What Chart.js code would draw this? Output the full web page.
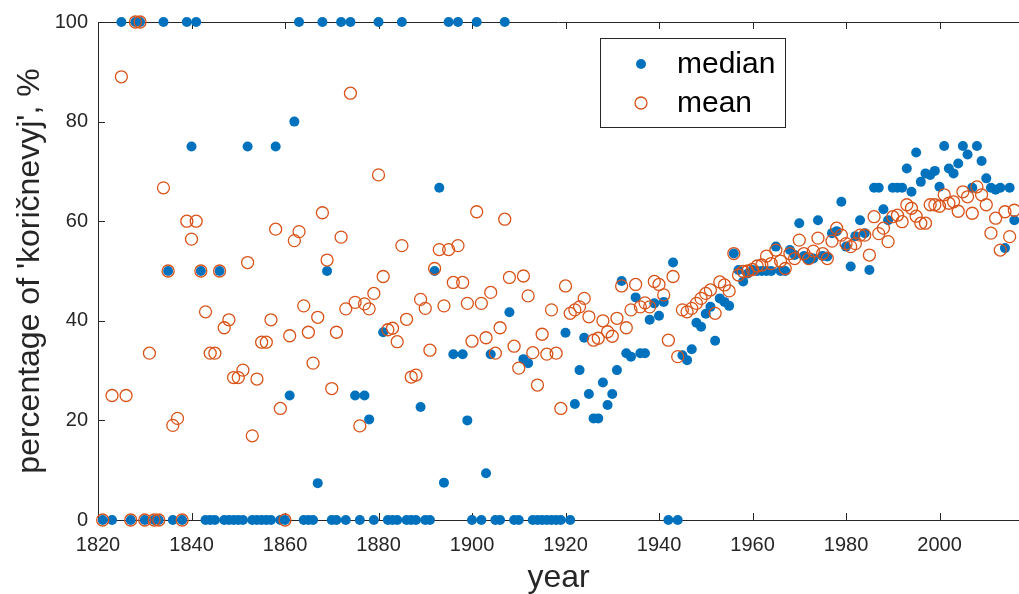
<!DOCTYPE html>
<html>
<head>
<meta charset="utf-8">
<title>koričnevyj by year</title>
<script src="https://cdn.jsdelivr.net/npm/chart.js@4.4.1/dist/chart.umd.min.js"></script>
<style>
  html, body { margin: 0; padding: 0; background: #fff; }
  #wrap { width: 1019px; height: 594px; }
</style>
</head>
<body>
<div id="wrap"><canvas id="pctChart" width="1019" height="594"></canvas></div>
<script>
// =========================
// DATA (null = no value that year)
// =========================
const years = [
  1821, 1823, 1825, 1826, 1827, 1828, 1829, 1830, 1831, 1832,
  1833, 1834, 1835, 1836, 1837, 1838, 1839, 1840, 1841, 1842,
  1843, 1844, 1845, 1846, 1847, 1848, 1849, 1850, 1851, 1852,
  1853, 1854, 1855, 1856, 1857, 1858, 1859, 1860, 1861, 1862,
  1863, 1864, 1865, 1866, 1867, 1868, 1869, 1870, 1871, 1872,
  1873, 1874, 1875, 1876, 1877, 1878, 1879, 1880, 1881, 1882,
  1883, 1884, 1885, 1886, 1887, 1888, 1889, 1890, 1891, 1892,
  1893, 1894, 1895, 1896, 1897, 1898, 1899, 1900, 1901, 1902,
  1903, 1904, 1905, 1906, 1907, 1908, 1909, 1910, 1911, 1912,
  1913, 1914, 1915, 1916, 1917, 1918, 1919, 1920, 1921, 1922,
  1923, 1924, 1925, 1926, 1927, 1928, 1929, 1930, 1931, 1932,
  1933, 1934, 1935, 1936, 1937, 1938, 1939, 1940, 1941, 1942,
  1943, 1944, 1945, 1946, 1947, 1948, 1949, 1950, 1951, 1952,
  1953, 1954, 1955, 1956, 1957, 1958, 1959, 1960, 1961, 1962,
  1963, 1964, 1965, 1966, 1967, 1968, 1969, 1970, 1971, 1972,
  1973, 1974, 1975, 1976, 1977, 1978, 1979, 1980, 1981, 1982,
  1983, 1984, 1985, 1986, 1987, 1988, 1989, 1990, 1991, 1992,
  1993, 1994, 1995, 1996, 1997, 1998, 1999, 2000, 2001, 2002,
  2003, 2004, 2005, 2006, 2007, 2008, 2009, 2010, 2011, 2012,
  2013, 2014, 2015, 2016
];

const medianPct = [
  0, 0, 100, null, 0, 100, 100, 0, null, 0,
  0, 100, 50, 0, null, 0, 100, 75, 100, 50,
  0, 0, 0, 50, 0, 0, 0, 0, 0, 75,
  0, 0, 0, 0, 0, 75, 0, 0, 25, 80,
  100, 0, 0, 0, 7.4, 100, 50, 0, 0, 100,
  0, 100, 25, 0, 25, 20.2, 0, 100, 37.7, 0,
  0, 0, 100, 0, 0, 0, 22.7, 0, 0, 50,
  66.7, 7.5, 100, 33.3, 100, 33.3, 20, 0, 100, 0,
  9.4, 33.3, 0, 0, 100, 41.7, 0, 0, 32.3, 31.5,
  0, 0, 0, 0, 0, 0, 0, 37.6, 0, 23.3,
  30.1, 36.6, 25.3, 20.4, 20.4, 27.6, 23.1, 25.3, 30.1, 48,
  33.5, 32.8, 44.7, 33.5, 33.5, 40.2, 43.5, 41, 43.8, 0,
  51.7, 0, 33.1, 32.1, 34.3, 39.6, 38.8, 41.4, 42.8, 36,
  44.5, 43.8, 43, 53.5, 50.2, 47.9, 49.5, 50.2, 50, 50,
  50, 50, 54.9, 50, 50, 54.2, 53.2, 59.6, 53, 52.2,
  52.5, 60.2, 53, 52.9, 57.6, 58, 63.9, 54.9, 50.9, 57,
  60.2, 57.6, 50.2, 66.7, 66.7, 62.4, 60.2, 66.7, 66.7, 66.7,
  70.6, 65.9, 73.8, 67.9, 69.6, 69.3, 70.1, 66.9, 75.1, 70.6,
  69.6, 71.6, 75.1, 73.4, 66.7, 75.1, 72.1, 68.6, 66.7, 66.3,
  66.7, 54.6, 66.7, 60.2
];

const meanPct = [
  0, 25, 89, 25, 0, 100, 100, 0, 33.5, 0,
  0, 66.7, 50, 19, 20.4, 0, 60, 56.4, 60, 50,
  41.8, 33.5, 33.5, 50, 38.6, 40.2, 28.6, 28.6, 30.1, 51.7,
  16.9, 28.3, 35.7, 35.7, 40.2, 58.4, 22.4, 0, 37, 56.1,
  57.9, 43, 37.7, 31.5, 40.7, 61.7, 52.2, 26.4, 37.7, 56.8,
  42.4, 85.7, 43.7, 18.9, 43.4, 42.4, 45.5, 69.3, 48.9, 38.2,
  38.5, 35.8, 55.1, 40.3, 28.7, 29.1, 44.3, 42.5, 34.1, 50.5,
  54.3, 43, 54.3, 47.7, 55.1, 47.7, 43.5, 35.9, 61.9, 43.5,
  36.6, 45.7, 33.5, 38.6, 60.4, 48.7, 34.9, 30.5, 49, 45,
  33.6, 27.1, 37.3, 33.3, 42.2, 33.5, 22.4, 47, 41.5, 42.2,
  42.8, 44.5, 40.8, 36.1, 36.5, 40, 37.8, 36.9, 40.5, 47,
  38.6, 42.2, 47.3, 42.8, 43.6, 42.8, 47.9, 47.3, 45.2, 36.1,
  48.9, 32.8, 42.2, 41.8, 42.5, 43.5, 44.5, 45.5, 46.2, 41.5,
  47.8, 47.2, 46, 53.5, 49.2, 49.9, 50, 50.3, 51, 51.2,
  53, 51.5, 54.2, 52, 50.5, 53.5, 52.5, 56.2, 53.5, 52.5,
  54, 56.6, 53.5, 52.5, 56, 58.6, 57.2, 55.5, 54.9, 55.5,
  57.2, 57.2, 53.2, 60.9, 57.5, 58.6, 55.9, 60.9, 61.2, 59.9,
  63.3, 62.6, 61, 59.6, 59.6, 63.3, 63.3, 63, 65.3, 63.6,
  63.9, 62, 65.9, 64.9, 61.6, 66.9, 65.3, 63.3, 57.6, 60.6,
  54.2, 61.9, 56.9, 62.2
];

const xTicks = [1820, 1840, 1860, 1880, 1900, 1920, 1940, 1960, 1980, 2000];
const yTicks = [0, 20, 40, 60, 80, 100];
const seriesNames = ['median', 'mean'];

const BLUE = '#0072BD';
const ORANGE = '#D95319';
const AXIS = '#262626';
const FONT = '"Liberation Sans", Arial, Helvetica, sans-serif';

function toPoints(values) {
  const pts = [];
  years.forEach((yr, i) => {
    if (values[i] !== null) pts.push({ x: yr, y: values[i] });
  });
  return pts;
}

// =========================
// AXES BOX + INWARD TICKS
// =========================
const matlabAxes = {
  id: 'matlabAxes',
  beforeDatasetsDraw(chart) {
    const { ctx, chartArea: a, scales: { x, y } } = chart;
    const tl = 7;
    ctx.save();
    ctx.strokeStyle = AXIS;
    ctx.lineWidth = 1;
    ctx.beginPath();
    ctx.moveTo(a.left + 0.5, a.top + 0.5);
    ctx.lineTo(a.left + 0.5, a.bottom + 0.5);
    ctx.moveTo(a.left, a.bottom + 0.5);
    ctx.lineTo(a.right, a.bottom + 0.5);
    ctx.moveTo(a.left, a.top + 0.5);
    ctx.lineTo(a.right, a.top + 0.5);
    xTicks.forEach(v => {
      const px = Math.round(x.getPixelForValue(v)) + 0.5;
      ctx.moveTo(px, a.bottom);
      ctx.lineTo(px, a.bottom - tl);
      ctx.moveTo(px, a.top);
      ctx.lineTo(px, a.top + tl);
    });
    yTicks.forEach(v => {
      const py = Math.round(y.getPixelForValue(v)) + 0.5;
      ctx.moveTo(a.left, py);
      ctx.lineTo(a.left + tl, py);
    });
    ctx.stroke();
    ctx.restore();
  }
};

// =========================
// BOXED LEGEND
// =========================
const boxLegend = {
  id: 'boxLegend',
  afterDraw(chart) {
    const { ctx } = chart;
    const bx = 600, by = 38, bw = 185, bh = 89;
    ctx.save();
    ctx.fillStyle = '#fff';
    ctx.fillRect(bx, by, bw, bh);
    ctx.strokeStyle = AXIS;
    ctx.lineWidth = 1;
    ctx.strokeRect(bx + 0.5, by + 0.5, bw, bh);

    ctx.font = '30px ' + FONT;
    ctx.textBaseline = 'middle';

    ctx.beginPath();
    ctx.fillStyle = BLUE;
    ctx.arc(641, 64, 5, 0, Math.PI * 2);
    ctx.fill();
    ctx.fillStyle = '#000';
    ctx.fillText(seriesNames[0], 677, 65);

    ctx.beginPath();
    ctx.strokeStyle = ORANGE;
    ctx.lineWidth = 1.3;
    ctx.arc(641, 103, 6, 0, Math.PI * 2);
    ctx.stroke();
    ctx.fillText(seriesNames[1], 677, 104);
    ctx.restore();
  }
};

// =========================
// SCATTER CHART
// =========================
const ctx = document.getElementById('pctChart').getContext('2d');

new Chart(ctx, {
  type: 'scatter',
  data: {
    datasets: [
      {
        label: seriesNames[0],
        data: toPoints(medianPct),
        pointRadius: 5,
        pointBorderWidth: 0,
        backgroundColor: BLUE,
        borderColor: BLUE,
        clip: false,
        order: 1
      },
      {
        label: seriesNames[1],
        data: toPoints(meanPct),
        pointRadius: 6,
        pointBorderWidth: 1.3,
        backgroundColor: 'rgba(0,0,0,0)',
        borderColor: ORANGE,
        clip: false,
        order: 0
      }
    ]
  },
  plugins: [matlabAxes, boxLegend],
  options: {
    responsive: false,
    animation: false,
    // plot box runs to the right edge of the canvas
    layout: { autoPadding: false, padding: { top: 22, right: 0, left: 0, bottom: 0 } },
    plugins: {
      legend: { display: false },
      tooltip: { enabled: false }
    },
    scales: {
      x: {
        type: 'linear',
        min: 1820,
        max: 2017,
        afterBuildTicks: s => { s.ticks = xTicks.map(v => ({ value: v })); },
        afterFit: s => { s.height = 74; },
        grid: { display: false, drawTicks: false },
        border: { display: false },
        ticks: {
          padding: 13,
          color: AXIS,
          font: { family: FONT, size: 20 },
          maxRotation: 0,
          callback: v => String(v)
        },
        title: {
          display: true,
          text: 'year',
          color: AXIS,
          font: { family: FONT, size: 32 },
          padding: { top: 0, bottom: -3 }
        }
      },
      y: {
        min: 0,
        max: 100,
        afterBuildTicks: s => { s.ticks = yTicks.map(v => ({ value: v })); },
        afterFit: s => { s.width = 98; },
        grid: { display: false, drawTicks: false },
        border: { display: false },
        ticks: {
          padding: 10,
          color: AXIS,
          font: { family: FONT, size: 20 }
        },
        title: {
          display: true,
          text: "percentage of 'koričnevyj', %",
          color: AXIS,
          font: { family: FONT, size: 32 },
          padding: { top: 11, bottom: 0 }
        }
      }
    }
  }
});
</script>
</body>
</html>
